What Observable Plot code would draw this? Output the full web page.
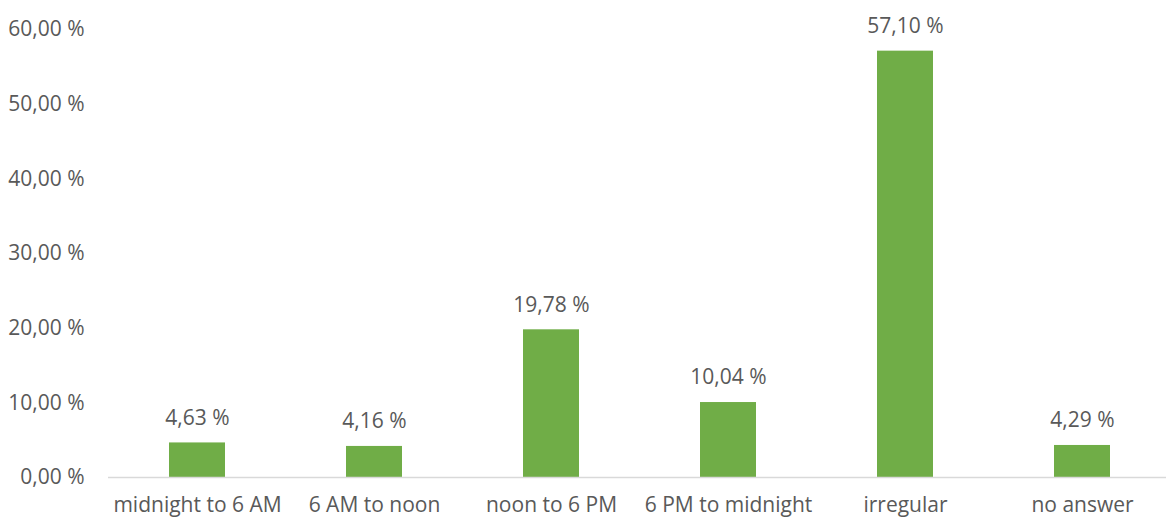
<!DOCTYPE html>
<html>
<head>
<meta charset="utf-8">
<script src="https://cdn.jsdelivr.net/npm/d3@7"></script>
<script src="https://cdn.jsdelivr.net/npm/@observablehq/plot@0.6"></script>
<style>
  html, body { margin: 0; padding: 0; background: #fff; }
  #chart svg { display: block; }
</style>
</head>
<body>
<div id="chart"></div>
<script>
// Share of respondents by time of day
const categories = ["midnight to 6 AM", "6 AM to noon", "noon to 6 PM", "6 PM to midnight", "irregular", "no answer"];
const shares = [4.63, 4.16, 19.78, 10.04, 57.10, 4.29];
const yTicks = [0, 10, 20, 30, 40, 50, 60];

const data = categories.map((c, i) => ({category: c, share: shares[i]}));
const fmt = v => v.toFixed(2).replace(".", ",") + " %";

const textColor = "#595959";
const font = "'Open Sans', sans-serif";

const chart = Plot.plot({
  width: 1166,
  height: 518,
  marginLeft: 108,
  marginRight: 0,
  marginTop: 29,
  marginBottom: 41,
  style: {fontFamily: font, fontSize: "21px", color: textColor, background: "#fff"},
  x: {domain: categories, range: [108, 1171], paddingInner: 0.684, paddingOuter: 0.342, label: null},
  y: {domain: [0, 60], label: null},
  marks: [
    Plot.barY(data, {x: "category", y: "share", fill: "#70AD47"}),
    Plot.ruleY([0], {stroke: "#D9D9D9", strokeWidth: 1.5}),
    Plot.text(data, {
      x: "category", y: "share", text: d => fmt(d.share),
      dy: -25, lineAnchor: "middle", fill: textColor, fontSize: 21
    }),
    Plot.axisY({
      ticks: yTicks, tickFormat: fmt, tickSize: 0, tickPadding: 24,
      fill: textColor, fontSize: 21, label: null
    }),
    Plot.axisX({
      tickSize: 0, tickPadding: 28, lineAnchor: "middle",
      fill: textColor, fontSize: 21, label: null
    })
  ]
});

document.getElementById("chart").appendChild(chart);
</script>
</body>
</html>
